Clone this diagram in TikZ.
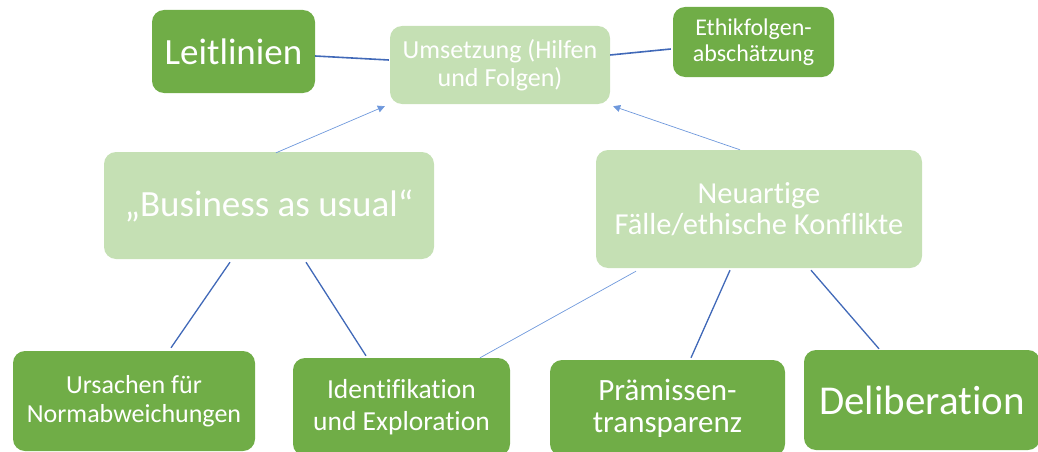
\documentclass[tikz,border=0pt]{standalone}
\usepackage{fontspec}
\setmainfont{Carlito}[Ligatures=NoCommon]
\usetikzlibrary{arrows.meta}
\definecolor{darkgreen}{HTML}{70AD47}
\definecolor{lightgreen}{HTML}{C5E0B4}
\definecolor{linkblue}{HTML}{4169B8}
\definecolor{thinblue}{HTML}{6E98DC}
\tikzset{
  box/.style={rounded corners=12pt, inner sep=0pt, text=white, align=center},
  darkbox/.style={box, fill=darkgreen},
  lightbox/.style={box, fill=lightgreen},
  link/.style={draw=linkblue, line width=1.3pt},
  thinlink/.style={draw=thinblue, line width=0.7pt},
  upflow/.style={thinlink, -{Triangle[length=7pt,width=7pt]}},
  fs/.style 2 args={font=\fontsize{#1pt}{#2pt}\selectfont}
}
\begin{document}
\begin{tikzpicture}[x=1pt,y=-1pt]
\useasboundingbox (0,0) rectangle (1038,452);
\clip (0,0) rectangle (1038,452);

% top row
\node[darkbox, minimum width=163pt, minimum height=83pt, fs={37}{42}] (leit) at (233.5,51.5) {Leitlinien};
\node[lightbox, minimum width=220pt, minimum height=78pt, fs={26}{28}] (ums) at (500,65) {Umsetzung (Hilfen\\und Folgen)};
\node[darkbox, minimum width=161pt, minimum height=70pt, fs={24}{26}] (ethik) at (753.5,42) {Ethikfolgen-\\abschätzung};

% middle row
\node[lightbox, minimum width=330pt, minimum height=107pt, fs={37}{42}] (bau) at (269,205.5) {„Business as usual“};
\node[lightbox, minimum width=326pt, minimum height=118pt, fs={30.5}{31.5}] (neu) at (759,209) {Neuartige\\Fälle/ethische Konflikte};

% bottom row
\node[darkbox, minimum width=242pt, minimum height=100pt, fs={26}{29}] (urs) at (134,401) {Ursachen für\\Normabweichungen};
\node[darkbox, minimum width=217pt, minimum height=98pt, fs={27.5}{31.5}] (ident) at (401.5,407) {Identifikation\\und Exploration};
\node[darkbox, minimum width=235pt, minimum height=96pt, fs={31}{32}] (praem) at (667.5,408) {Prämissen-\\transparenz};
\node[darkbox, minimum width=236pt, minimum height=100pt, fs={41}{44}] (delib) at (922,400) {Deliberation};

% side links of the top row
\draw[link, line width=1.6pt] ([yshift=-4.5pt]leit.east) -- ([xshift=-1pt,yshift=5pt]ums.west);
\draw[link, line width=1.6pt] ([yshift=10pt]ums.east) -- ([xshift=-2pt,yshift=-7pt]ethik.west);

% arrows up to the top box
\draw[upflow] ([xshift=7pt,yshift=-1pt]bau.north) -- ([xshift=-5pt,yshift=-2pt]ums.south west);
\draw[upflow] ([xshift=-19pt]neu.north) -- ([xshift=3pt,yshift=-2pt]ums.south east);

% links down to the bottom row
\draw[link] ([xshift=-39pt,yshift=-3pt]bau.south) -- ([xshift=37pt,yshift=3pt]urs.north);
\draw[link] ([xshift=37pt,yshift=-3pt]bau.south) -- ([xshift=-35.5pt,yshift=2pt]ident.north);
\draw[thinlink] ([xshift=-123pt,yshift=-3pt]neu.south) -- ([xshift=78.5pt]ident.north);
\draw[link] ([xshift=-29pt,yshift=-2pt]neu.south) -- ([xshift=23.5pt,yshift=2pt]praem.north);
\draw[link] ([xshift=52pt,yshift=-2pt]neu.south) -- ([xshift=-43pt,yshift=1pt]delib.north);
\end{tikzpicture}
\end{document}
